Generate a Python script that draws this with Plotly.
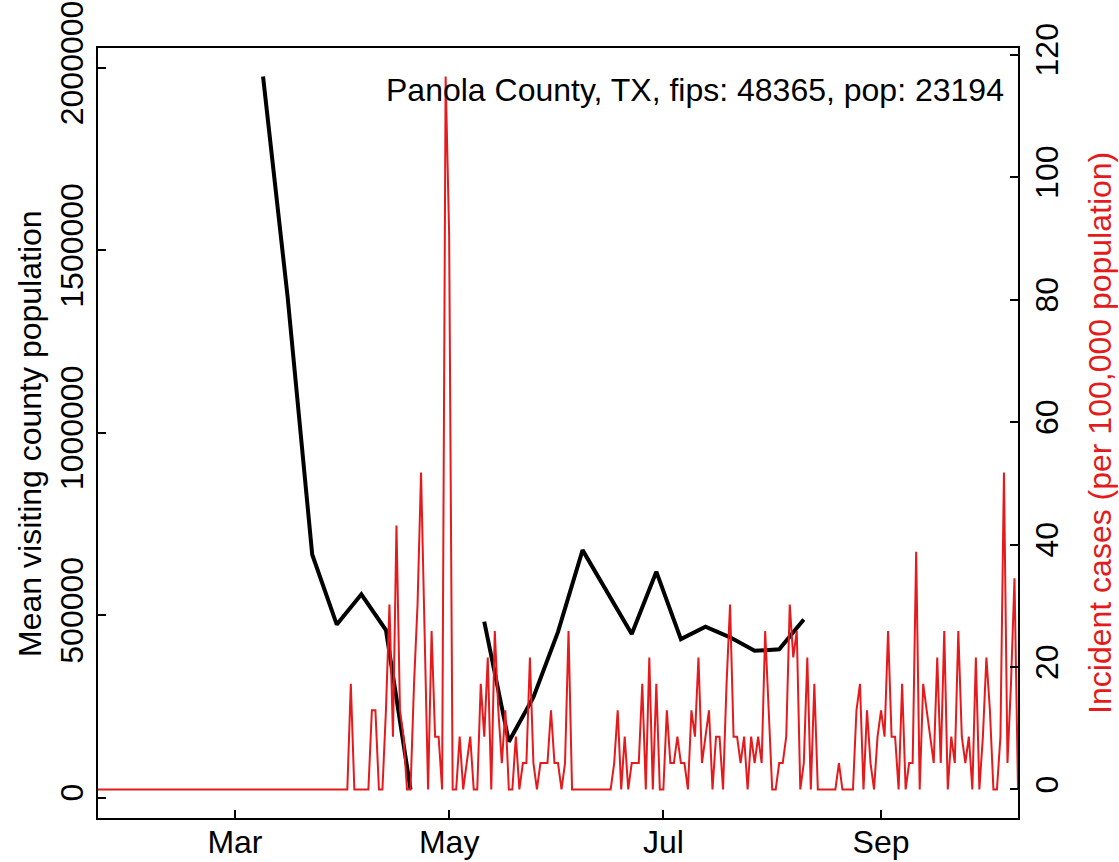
import pandas as pd
import plotly.graph_objects as go

# ---------------- data ----------------
county_label = "Panola County, TX, fips: 48365, pop: 23194"
population = 23194

# daily incident cases (counts), Jan 22 2020 onward
case_start = "2020-01-22"
cases_jan_feb = [0, 0, 0, 0, 0, 0, 0, 0, 0, 0,
                 0, 0, 0, 0, 0, 0, 0, 0, 0, 0,
                 0, 0, 0, 0, 0, 0, 0, 0, 0, 0,
                 0, 0, 0, 0, 0, 0, 0, 0, 0]  # Jan 22 - Feb 29
cases_mar = [0, 0, 0, 0, 0, 0, 0, 0, 0, 0,
             0, 0, 0, 0, 0, 0, 0, 0, 0, 0,
             0, 0, 0, 0, 0, 0, 0, 0, 0, 0, 0]
cases_apr = [0, 0, 4, 0, 0, 0, 0, 0, 3, 3,
             0, 0, 3, 7, 2, 10, 3, 2, 0, 0,
             4, 7, 12, 6, 0, 6, 2, 2, 0, 27]
cases_may = [21, 0, 0, 2, 0, 1, 2, 0, 0, 4,
             2, 5, 0, 6, 3, 1, 3, 0, 0, 2,
             0, 1, 1, 5, 1, 0, 1, 1, 1, 3, 1]
cases_jun = [1, 0, 1, 6, 0, 0, 0, 0, 0, 0,
             0, 0, 0, 0, 0, 0, 1, 3, 0, 2,
             0, 1, 1, 1, 4, 0, 5, 0, 4, 0]
cases_jul = [0, 3, 1, 1, 2, 1, 1, 0, 3, 2,
             5, 1, 2, 3, 0, 2, 2, 0, 4, 7,
             2, 2, 1, 2, 0, 2, 1, 2, 1, 6, 3]
cases_aug = [0, 0, 1, 1, 2, 7, 5, 6, 0, 1,
             5, 0, 4, 0, 0, 0, 0, 0, 0, 1,
             0, 0, 0, 0, 3, 4, 0, 3, 1, 0, 2]
cases_sep = [3, 2, 6, 2, 2, 0, 4, 0, 1, 1,
             9, 0, 4, 3, 2, 1, 5, 1, 6, 0,
             2, 1, 6, 2, 1, 2, 0, 5, 0, 2]
cases_oct = [5, 3, 0, 0, 2, 12, 1, 4, 8, 0]

# mean visiting county population, weekly (None = missing week)
visit_weeks = ["2020-03-09", "2020-03-16", "2020-03-23", "2020-03-30",
               "2020-04-06", "2020-04-13", "2020-04-20", "2020-04-27",
               "2020-05-04", "2020-05-11", "2020-05-18", "2020-05-25",
               "2020-06-01", "2020-06-08", "2020-06-15", "2020-06-22",
               "2020-06-29", "2020-07-06", "2020-07-13", "2020-07-20",
               "2020-07-27", "2020-08-03", "2020-08-10"]
visit_pop = [1976000, 1372000, 666000, 474000,
             557000, 459000, 22000, None,
             None, 482000, 153000, 275000,
             454000, 678000, 563000, 448000,
             619000, 434000, 468000, 439000,
             402000, 406000, 488000]

x_ticks = ["2020-03-01", "2020-05-01", "2020-07-01", "2020-09-01"]
x_tick_text = ["Mar", "May", "Jul", "Sep"]
x_range = ["2020-01-22", "2020-10-10"]
y_ticks = [0, 500000, 1000000, 1500000, 2000000]
y2_ticks = [0, 20, 40, 60, 80, 100, 120]

# ---------------- build ----------------
daily_cases = (cases_jan_feb + cases_mar + cases_apr + cases_may + cases_jun
               + cases_jul + cases_aug + cases_sep + cases_oct)
case_dates = pd.date_range(case_start, periods=len(daily_cases), freq="D")
incidence = [c * 100000 / population for c in daily_cases]

RED = "#E41A1C"
FONT = "Liberation Sans, Arial, Helvetica, sans-serif"
FS = 32

vmin = min(v for v in visit_pop if v is not None)
vmax = max(v for v in visit_pop if v is not None)
vpad = 0.04 * (vmax - vmin)
imax = max(incidence)

fig = go.Figure()
fig.add_trace(go.Scatter(x=pd.to_datetime(visit_weeks), y=visit_pop, mode="lines",
                         line=dict(color="black", width=4), connectgaps=False,
                         showlegend=False, hoverinfo="skip"))
fig.add_trace(go.Scatter(x=case_dates, y=incidence, mode="lines",
                         line=dict(color=RED, width=2), yaxis="y2",
                         showlegend=False, hoverinfo="skip"))

axis_common = dict(showgrid=False, zeroline=False, showline=True, linecolor="black",
                   linewidth=1.5, ticks="inside", ticklen=8, tickwidth=1.5,
                   tickcolor="black", automargin=False,
                   tickfont=dict(family=FONT, size=FS, color="black"))

fig.update_layout(
    width=1119, height=862,
    margin=dict(l=98, r=101, t=48, b=44, pad=0),
    paper_bgcolor="white", plot_bgcolor="white",
    font=dict(family=FONT, size=FS, color="black"),
    xaxis=dict(type="date", range=x_range, tickvals=x_ticks, ticktext=x_tick_text,
               mirror=True, ticklabelstandoff=-5, **axis_common),
    yaxis=dict(range=[vmin - vpad, vmax + vpad], tickvals=y_ticks,
               ticktext=[str(v) for v in y_ticks], tickangle=-90, **axis_common),
    yaxis2=dict(range=[-0.04 * imax, 1.04 * imax], tickvals=y2_ticks,
                ticktext=[str(v) for v in y2_ticks], tickangle=-90,
                overlaying="y", side="right", **axis_common),
    annotations=[
        dict(text=county_label, xref="paper", yref="paper", x=0.987, y=0.9455,
             xanchor="right", yanchor="middle", showarrow=False,
             font=dict(family=FONT, size=FS, color="black")),
        dict(text="Mean visiting county population", xref="paper", yref="paper",
             x=-0.074, y=0.5, xanchor="center", yanchor="middle", textangle=-90,
             showarrow=False, font=dict(family=FONT, size=FS, color="black")),
        dict(text="Incident cases (per 100,000 population)", xref="paper", yref="paper",
             x=1.089, y=0.5, xanchor="center", yanchor="middle", textangle=-90,
             showarrow=False, font=dict(family=FONT, size=FS, color=RED)),
    ],
)

fig.write_html("out.html", config={"displayModeBar": False},
               post_script="document.body.style.margin='0';document.body.style.padding='0';")
